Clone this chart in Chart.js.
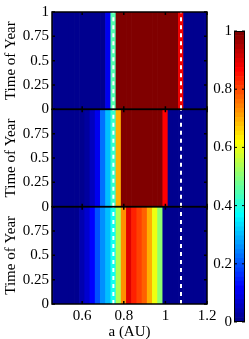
<!DOCTYPE html>
<html>
<head>
<meta charset="utf-8">
<script src="https://cdn.jsdelivr.net/npm/chart.js@4.4.0/dist/chart.umd.min.js"></script>
<style>
  html, body { margin: 0; padding: 0; background: #fff; }
  body { width: 249px; height: 339px; position: relative; overflow: hidden; }
  #main { position: absolute; left: 0; top: 0; }
  #cbar { position: absolute; left: 212px; top: 0; }
</style>
</head>
<body>
<canvas id="main" width="220" height="339"></canvas>
<canvas id="cbar" width="37" height="339"></canvas>
<script>
// semi-major axis grid (cell centres), AU
const aGrid = [0.45, 0.475, 0.5, 0.525, 0.55, 0.575, 0.6, 0.625, 0.65, 0.675,
               0.7, 0.725, 0.75, 0.775, 0.8, 0.825, 0.85, 0.875, 0.9, 0.925,
               0.95, 0.975, 1.0, 1.025, 1.05, 1.075, 1.1, 1.125, 1.15, 1.175, 1.2];

// fraction values (same for every time of year)
const panelTop = [0, 0, 0, 0, 0, 0, 0, 0, 0, 0,
                  0, 0.1, 0.45, 1, 1, 1, 1, 1, 1, 1,
                  1, 1, 1, 1, 1, 0.88, 0, 0, 0, 0, 0];
const panelMid = [0, 0, 0, 0, 0, 0, 0.01, 0.03, 0.05, 0.1,
                  0.22, 0.3, 0.42, 0.7, 1, 1, 1, 1, 1, 1,
                  1, 1, 0.86, 0, 0, 0, 0, 0, 0, 0, 0];
const panelBottom = [0, 0, 0, 0, 0, 0, 0.04, 0.07, 0.12, 0.2,
                     0.26, 0.31, 0.38, 0.54, 0.72, 0.9, 0.84, 0.81, 0.77, 0.7,
                     0.6, 0.5, 0, 0, 0, 0, 0, 0, 0, 0, 0];

const dashedA = [0.75, 1.075];
const xTicks = [0.6, 0.8, 1, 1.2];
const yTicks = [0, 0.25, 0.5, 0.75, 1];
const cbarTicks = [0, 0.2, 0.4, 0.6, 0.8, 1];

const FONT = { family: "'Liberation Serif', 'DejaVu Serif', serif", size: 15 };
Chart.defaults.color = '#000';

// MATLAB jet(64)
function jet64() {
  const n = 16, u = [];
  for (let j = 1; j <= n; j++) u.push(j / n);
  for (let j = 1; j < n; j++) u.push(1);
  for (let j = n; j >= 1; j--) u.push(j / n);
  const pick = (row) => (row >= 1 && row <= u.length ? u[row - 1] : 0);
  const out = [];
  for (let k = 1; k <= 64; k++) {
    const r = pick(k - 24), g = pick(k - 8), b = pick(k + 8);
    out.push(`rgb(${Math.round(r * 255)},${Math.round(g * 255)},${Math.round(b * 255)})`);
  }
  return out;
}
const JET = jet64();
const jetColor = (v) => JET[Math.min(63, Math.max(0, Math.floor(v * 64)))];

// listed bottom first: stacked left axes are laid out from the last one down
const panels = [
  { id: 'yBot', values: panelBottom, showOne: false },
  { id: 'yMid', values: panelMid, showOne: false },
  { id: 'yTop', values: panelTop, showOne: true },
];

const datasets = [];
panels.forEach((p) => {
  dashedA.forEach((a) => {
    datasets.push({
      type: 'line',
      yAxisID: p.id,
      data: [{ x: a, y: 0 }, { x: a, y: 1 }],
      borderColor: '#fff',
      borderWidth: 2,
      borderDash: [4, 4],
      pointRadius: 0,
      fill: false,
      order: 0,
    });
  });
  datasets.push({
    type: 'bar',
    yAxisID: p.id,
    data: p.values.map((v, i) => ({ x: aGrid[i], y: [0, 1] })),
    backgroundColor: p.values.map(jetColor),
    borderWidth: 0,
    grouped: false,
    barPercentage: 1,
    categoryPercentage: 1,
    order: 1,
  });
});

function panelAxis(p) {
  return {
    type: 'linear',
    position: 'left',
    stack: 'panels',
    stackWeight: 1,
    min: 0,
    max: 1,
    afterFit: (s) => { s.width = 52; },
    afterBuildTicks: (s) => { s.ticks = yTicks.map((v) => ({ value: v })); },
    ticks: {
      font: FONT,
      padding: 3,
      autoSkip: false,
      callback: (v) => (v === 1 && !p.showOne ? '' : String(v)),
    },
    grid: { display: false, drawTicks: false },
    border: { display: false },
    title: { display: true, text: 'Time of Year', font: FONT, padding: { top: 2, bottom: 0 } },
  };
}

const scales = {
  x: {
    type: 'linear',
    position: 'bottom',
    min: 0.455,
    max: 1.2,
    offset: false,
    afterFit: (s) => { s.height = 35; },
    afterBuildTicks: (s) => { s.ticks = xTicks.map((v) => ({ value: v })); },
    ticks: { font: FONT, padding: 3, maxRotation: 0, autoSkip: false, callback: (v) => String(v) },
    grid: { display: false, drawTicks: false, offset: false },
    border: { display: false },
    title: { display: true, text: 'a (AU)', font: FONT, padding: { top: 0, bottom: -2 } },
  },
};
panels.forEach((p) => { scales[p.id] = panelAxis(p); });

// black box round every panel, with MATLAB style inward ticks
const panelFrames = {
  id: 'panelFrames',
  afterDatasetsDraw(chart) {
    const ctx = chart.ctx, x = chart.scales.x;
    ctx.save();
    ctx.strokeStyle = '#000';
    ctx.lineWidth = 1.5;
    panels.forEach((p) => {
      const y = chart.scales[p.id];
      ctx.strokeRect(x.left, y.top, x.right - x.left, y.bottom - y.top);
      ctx.beginPath();
      xTicks.forEach((v) => {
        const px = x.getPixelForValue(v);
        ctx.moveTo(px, y.bottom); ctx.lineTo(px, y.bottom - 3);
        ctx.moveTo(px, y.top); ctx.lineTo(px, y.top + 3);
      });
      yTicks.forEach((v) => {
        const py = y.getPixelForValue(v);
        ctx.moveTo(x.left, py); ctx.lineTo(x.left + 3, py);
        ctx.moveTo(x.right, py); ctx.lineTo(x.right - 3, py);
      });
      ctx.stroke();
    });
    ctx.restore();
  },
};

new Chart(document.getElementById('main'), {
  type: 'bar',
  data: { datasets },
  options: {
    responsive: false,
    animation: false,
    devicePixelRatio: 1,
    layout: { padding: { left: 0, top: 12, right: 13, bottom: 0 } },
    plugins: { legend: { display: false }, tooltip: { enabled: false } },
    scales,
  },
  plugins: [panelFrames],
});

// colour bar: 64 bands of the colormap
const cbarDatasets = JET.map((c, k) => ({
  data: [[k / 64, (k + 1) / 64]],
  backgroundColor: c,
  borderWidth: 0,
  grouped: false,
  barPercentage: 1,
  categoryPercentage: 1,
}));

const cbarFrame = {
  id: 'cbarFrame',
  afterDatasetsDraw(chart) {
    const ctx = chart.ctx, a = chart.chartArea, y = chart.scales.y;
    ctx.save();
    ctx.strokeStyle = '#000';
    ctx.lineWidth = 1;
    ctx.strokeRect(a.left + 0.5, a.top + 0.5, a.right - a.left - 1, a.bottom - a.top - 1);
    ctx.beginPath();
    cbarTicks.forEach((v) => {
      const py = y.getPixelForValue(v);
      ctx.moveTo(a.right, py); ctx.lineTo(a.right - 3, py);
      ctx.moveTo(a.left, py); ctx.lineTo(a.left + 3, py);
    });
    ctx.stroke();
    ctx.restore();
  },
};

new Chart(document.getElementById('cbar'), {
  type: 'bar',
  data: { labels: [''], datasets: cbarDatasets },
  options: {
    responsive: false,
    animation: false,
    devicePixelRatio: 1,
    layout: { padding: { left: 0, top: 31, right: 4, bottom: 17 } },
    plugins: { legend: { display: false }, tooltip: { enabled: false } },
    scales: {
      x: { display: false },
      y: {
        min: 0,
        max: 1,
        afterFit: (s) => { s.width = 22; },
        afterBuildTicks: (s) => { s.ticks = cbarTicks.map((v) => ({ value: v })); },
        ticks: { font: FONT, padding: 2, autoSkip: false, callback: (v) => String(v) },
        grid: { display: false, drawTicks: false },
        border: { display: false },
      },
    },
  },
  plugins: [cbarFrame],
});
</script>
</body>
</html>
